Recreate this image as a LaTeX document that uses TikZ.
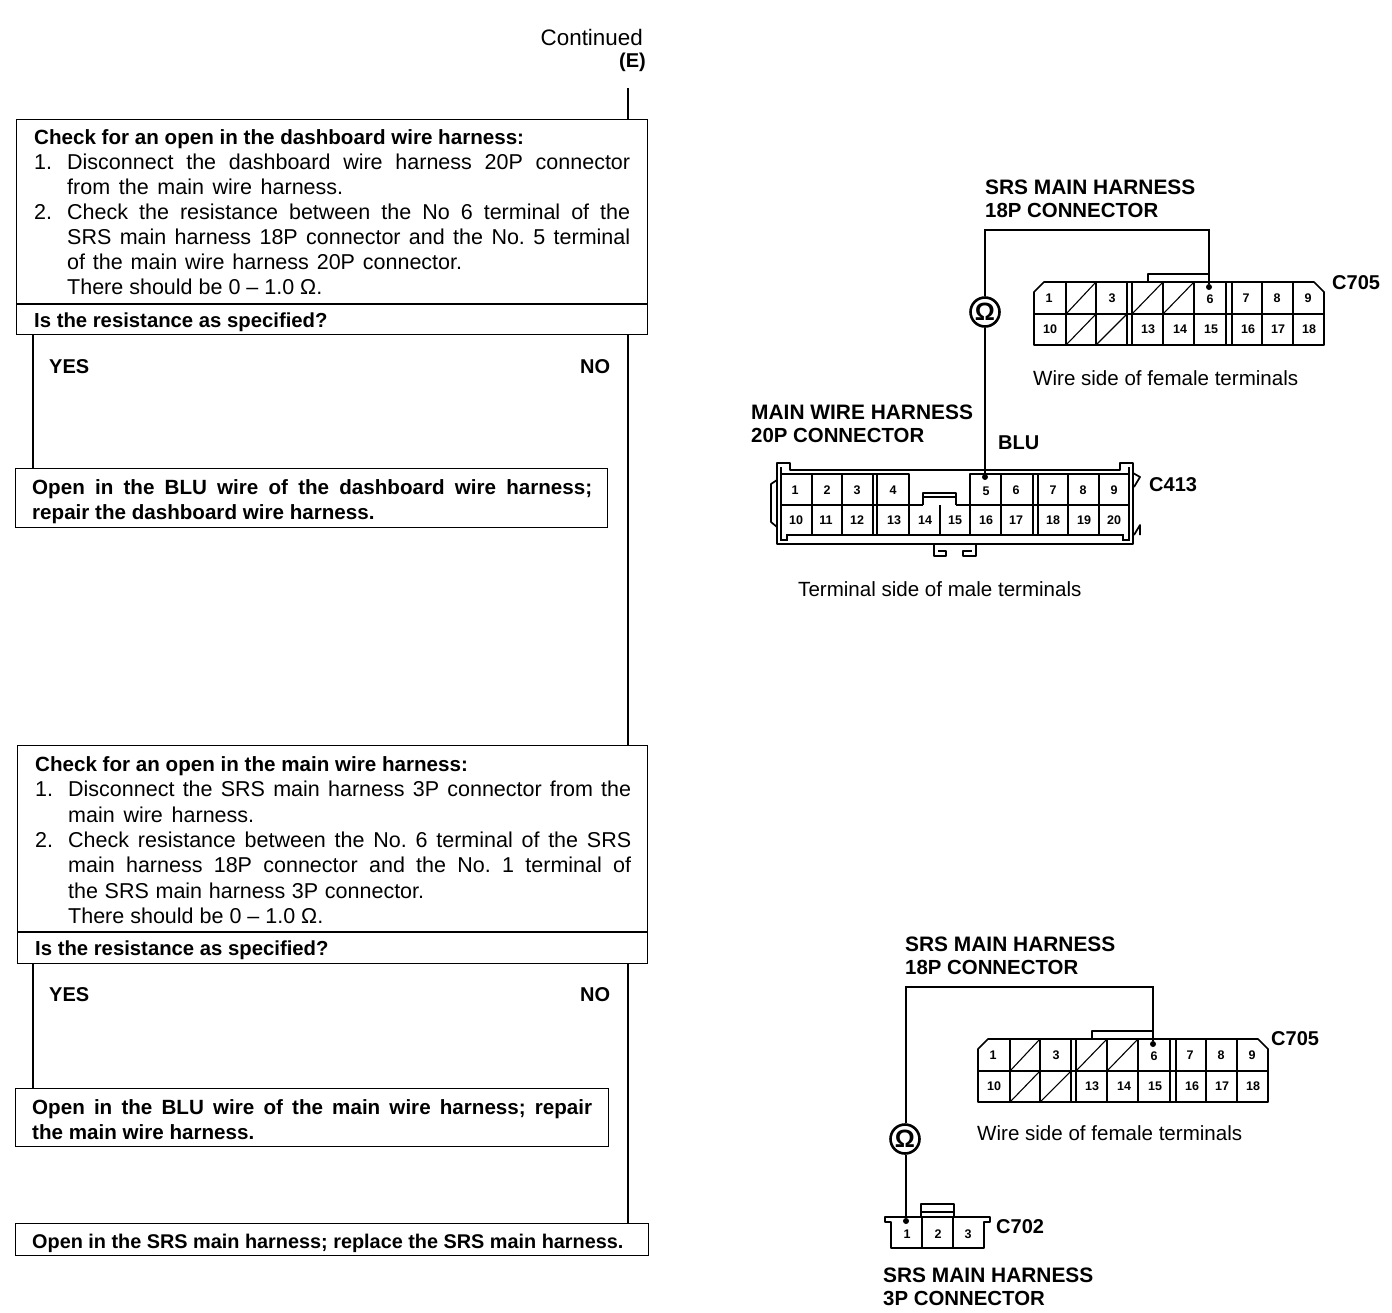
\documentclass[tikz,border=0pt]{standalone}
\usepackage{fontspec}
\setmainfont{Liberation Sans}
\frenchspacing
\newcommand{\jl}[1]{\makebox[563pt][s]{#1}}
\newcommand{\il}[1]{\hspace*{33pt}#1}
\newcommand{\wl}[2]{\hspace*{33pt}\makebox[#1pt][s]{#2}}
\newcommand{\num}[2]{\makebox[33pt][l]{#1}\makebox[563pt][s]{#2}}
\newcommand{\headb}[1]{{\fontsize{20.6}{25}\selectfont\bfseries #1}}
\newcommand{\cn}[1]{{\fontsize{20.4}{23.5}\selectfont\bfseries #1}}
\tikzset{
  flowbox/.style={draw=black,line width=1.4pt,fill=white},
  flowline/.style={draw=black,line width=2pt},
  wireline/.style={draw=black,line width=1.8pt},
  conn/.style={draw=black,line width=1.7pt,line join=round},
  connthin/.style={draw=black,line width=1.1pt},
  body/.style={font=\fontsize{21.5}{25.05}\selectfont,inner sep=0pt,anchor=north west,align=left},
  bodyc/.style={font=\fontsize{21.5}{25.3}\selectfont,inner sep=0pt,anchor=north west,align=left},
  bodyb/.style={font=\fontsize{20.6}{25}\selectfont\bfseries,inner sep=0pt,anchor=north west,align=left},
  quest/.style={font=\fontsize{20.3}{25}\selectfont\bfseries,inner sep=0pt,anchor=north west,align=left},
  label/.style={font=\fontsize{20.9}{23.5}\selectfont\bfseries,inner sep=0pt,anchor=west,align=left},
  tag/.style={font=\fontsize{20}{23.5}\selectfont\bfseries,inner sep=0pt,anchor=west,align=left},
  plain/.style={font=\fontsize{20.55}{24}\selectfont,inner sep=0pt,anchor=west},
  cellnum/.style={font=\fontsize{12.5}{14}\selectfont\bfseries,inner sep=0pt},
  dotmark/.style={circle,fill=black,inner sep=0pt,minimum size=6pt},
  ohm/.style={circle,draw=black,line width=2.6pt,fill=white,inner sep=0pt,minimum size=29pt,font=\fontsize{25}{25}\selectfont\bfseries},
}
\newcommand{\connA}[1]{%
  \draw[conn] (1044,282) -- (1314,282) -- (1324,292) -- (1324,345) -- (1034,345) -- (1034,292) -- cycle;
  \draw[conn] (1034,314) -- (1324,314);
  \foreach \vx in {1066,1096,1127,1132,1163,1194,1226,1232,1262,1293}
    \draw[conn] (\vx,282) -- (\vx,345);
  \draw[conn] (1148,282) -- (1148,274) -- (1209,274);
  \draw[connthin] (1066,314) -- (1096,282);
  \draw[connthin] (1132,314) -- (1163,282);
  \draw[connthin] (1163,314) -- (1194,282);
  \draw[connthin] (1066,345) -- (1096,314);
  \draw[connthin] (1096,345) -- (1127,314);
  \foreach \n/\px/\py in {1/1049/298,3/1112/298,6/1210/299,7/1246/298,8/1277/298,9/1308/298,
    10/1050/329,13/1148/329,14/1180/329,15/1211/329,16/1248/329,17/1278/329,18/1309/329}
    \node[cellnum] (#1-\n) at (\px,\py) {\n};
}
\begin{document}
\begin{tikzpicture}[x=1pt,y=-1pt]
\useasboundingbox[fill=white] (0,0) rectangle (1392,1312);
% ---- header
\node[plain,anchor=east,font=\fontsize{22.4}{24}\selectfont] (cont) at (643,37) {Continued};
\node[tag,anchor=east] (cE) at (646,62) {(E)};
\coordinate (top) at (628,88);
% ---- boxes
\node[flowbox,draw,anchor=north west,minimum width=631pt,minimum height=215pt,inner sep=0pt] (b1) at (16,119) {};
\node[flowbox,anchor=north west,minimum width=592pt,minimum height=59pt,inner sep=0pt] (r1) at (15,468) {};
\node[flowbox,anchor=north west,minimum width=630pt,minimum height=218pt,inner sep=0pt] (b2) at (17,745) {};
\node[flowbox,anchor=north west,minimum width=593pt,minimum height=58pt,inner sep=0pt] (r2) at (15,1088) {};
\node[flowbox,anchor=north west,minimum width=633pt,minimum height=32pt,inner sep=0pt] (r3) at (15,1223) {};
\draw[flowbox] (16,304) -- (647,304);
\draw[flowbox] (17,932) -- (647,932);
% ---- flow lines
\coordinate (yes1) at (33,400);
\coordinate (yes2) at (33,1020);
\draw[flowline] (top) -- (top |- b1.north);
\draw[flowline] (top |- b1.south) -- (top |- b2.north);
\draw[flowline] (top |- b2.south) -- (top |- r3.north);
\draw[flowline] (yes1 |- b1.south) -- (yes1 |- r1.north);
\draw[flowline] (yes2 |- b2.south) -- (yes2 |- r2.north);
% ---- box texts
\node[body] (t1) at (34,129.5) {\headb{Check for an open in the dashboard wire harness:}\\
\num{1.}{Disconnect the dashboard wire harness 20P connector}\\
\wl{276}{from the main wire harness.}\\
\num{2.}{Check the resistance between the No 6 terminal of the}\\
\il{\jl{SRS main harness 18P connector and the No. 5 terminal}}\\
\wl{395}{of the main wire harness 20P connector.}\\
\il{There should be 0 – 1.0 Ω.}};
\node[quest] (q1) at (34,312.5) {Is the resistance as specified?};
\node[tag] (y1) at (49,367) {YES};
\node[tag] (n1) at (580,367) {NO};
\node[bodyb] (o1) at (32,479.5) {\makebox[560pt][s]{Open in the BLU wire of the dashboard wire harness;}\\repair the dashboard wire harness.};
\node[bodyc] (t2) at (35,756.5) {\headb{Check for an open in the main wire harness:}\\
\num{1.}{Disconnect the SRS main harness 3P connector from the}\\
\wl{186}{main wire harness.}\\
\num{2.}{Check resistance between the No. 6 terminal of the SRS}\\
\il{\jl{main harness 18P connector and the No. 1 terminal of}}\\
\wl{356}{the SRS main harness 3P connector.}\\
\il{There should be 0 – 1.0 Ω.}};
\node[quest] (q2) at (35,940.5) {Is the resistance as specified?};
\node[tag] (y2) at (49,995) {YES};
\node[tag] (n2) at (580,995) {NO};
\node[bodyb] (o2) at (32,1099.5) {\makebox[560pt][s]{Open in the BLU wire of the main wire harness; repair}\\the main wire harness.};
\node[bodyb,font=\fontsize{19.85}{25}\selectfont\bfseries] (o3) at (32,1233.5) {Open in the SRS main harness; replace the SRS main harness.};
% ---- upper diagram
\connA{ua}
\node[label] (l1) at (985,199) {SRS MAIN HARNESS\\\cn{18P CONNECTOR}};
\node[tag] (c705a) at (1332,283) {C705};
\node[plain] (ws1) at (1033,378) {Wire side of female terminals};
\node[label] (l2) at (751,424) {MAIN WIRE HARNESS\\\cn{20P CONNECTOR}};
\node[tag] (blu) at (998,443) {BLU};
\node[tag] (c413) at (1149,485) {C413};
\node[plain] (ts) at (798,589) {Terminal side of male terminals};
% 20P connector
\draw[conn] (777,463) -- (790,463) -- (790,470) -- (1120,470) -- (1120,463) -- (1133,463) -- (1133,544) -- (777,544) -- cycle;
\draw[connthin] (781,467) -- (781,540) -- (787,540) -- (787,535) -- (1123,535) -- (1123,540) -- (1129,540) -- (1129,467);
\draw[conn] (781,474) -- (909,474) -- (909,505);
\draw[conn] (970,505) -- (970,474) -- (1130,474);
\draw[conn] (781,505) -- (923,505);
\draw[conn] (956,505) -- (1130,505);
\foreach \vx in {812,842,873,877,970,1001,1033,1038,1068,1099}
  \draw[conn] (\vx,474) -- (\vx,535);
\draw[conn] (909,505) -- (909,535);
\draw[conn] (940,505) -- (940,535);
\draw[conn] (923,505) -- (923,493) -- (956,493) -- (956,505);
\draw[connthin] (923,497) -- (956,497);
\draw[conn] (777,480) -- (771,484) -- (771,522) -- (777,527);
\draw[conn] (1133,473) -- (1140,477) -- (1134,487);
\draw[conn] (1134,535) -- (1140,525) -- (1140,535);
\draw[conn] (934,544) -- (934,556) -- (946,556) -- (946,551) -- (938,551);
\draw[conn] (976,544) -- (976,556) -- (963,556) -- (963,551) -- (972,551);
\foreach \n/\px/\py in {1/795/490,2/827/490,3/857/490,4/893/490,5/986/491,6/1016/490,7/1053/490,8/1083/490,9/1114/490,
  10/796/520,11/826/520,12/857/520,13/894/520,14/925/520,15/955/520,16/986/520,17/1016/520,18/1053/520,19/1084/520,20/1114/520}
  \node[cellnum] (m-\n) at (\px,\py) {\n};
% wires upper
\node[dotmark] (d1) at (1209,287) {};
\node[dotmark] (d2) at (985,477) {};
\node[ohm] (ohm1) at (985,312) {Ω};
\coordinate (w1) at (985,230);
\draw[wireline] (d1) |- (w1) -- (ohm1);
\draw[wireline] (ohm1) -- (d2);
% ---- lower diagram
\begin{scope}[shift={(-56,757)}]
\connA{la}
\end{scope}
\node[label] (l3) at (905,956) {SRS MAIN HARNESS\\\cn{18P CONNECTOR}};
\node[tag] (c705b) at (1271,1039) {C705};
\node[plain] (ws2) at (977,1133) {Wire side of female terminals};
\node[tag] (c702) at (996,1227) {C702};
\node[label] (l4) at (883,1287) {SRS MAIN HARNESS\\\cn{3P CONNECTOR}};
% 3P connector
\draw[conn] (891,1222) -- (885,1222) -- (885,1217) -- (990,1217) -- (990,1222) -- (984,1222) -- (984,1248) -- (891,1248) -- cycle;
\draw[conn] (922,1217) -- (922,1248);
\draw[conn] (953,1217) -- (953,1248);
\draw[conn] (921,1217) -- (921,1204) -- (954,1204) -- (954,1217);
\draw[connthin] (921,1212) -- (954,1212);
\foreach \n/\px/\py in {1/907/1234,2/938/1234,3/968/1234}
  \node[cellnum] (p-\n) at (\px,\py) {\n};
% wires lower
\node[dotmark] (d3) at (1153,1044) {};
\node[dotmark] (d4) at (906,1221) {};
\node[ohm] (ohm2) at (905,1139) {Ω};
\coordinate (w2) at (906,987);
\draw[wireline] (d3) |- (w2) -- (w2 |- ohm2.north);
\draw[wireline] (d4 |- ohm2.south) -- (d4);
\end{tikzpicture}
\end{document}
